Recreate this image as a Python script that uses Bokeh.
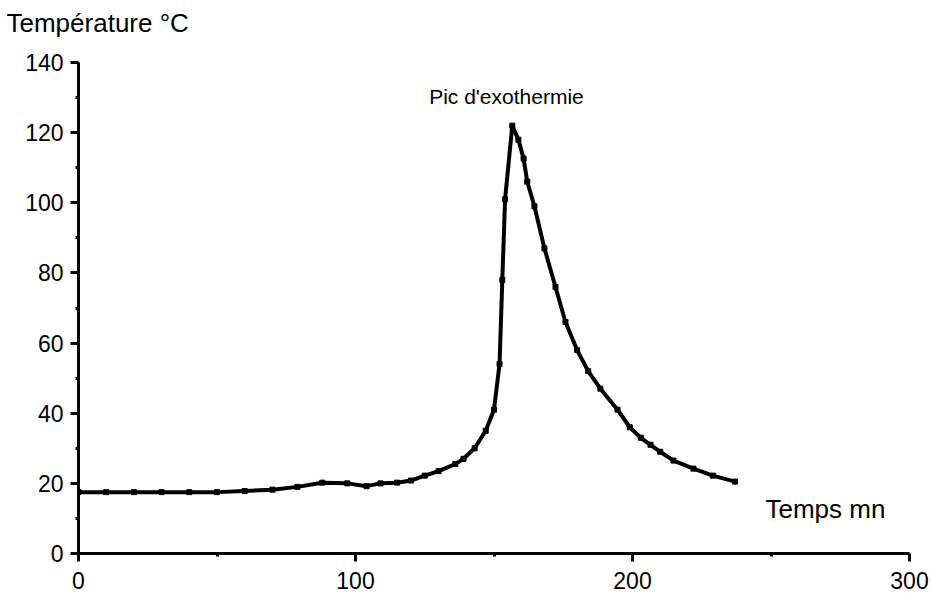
from bokeh.plotting import figure
from bokeh.models import Range1d, Label, FixedTicker, Title
from bokeh.embed import file_html
from bokeh.resources import INLINE

# Data
time_mn = [0, 10, 20, 30, 40, 50, 60, 70, 79, 88, 97, 104, 109, 115, 120, 125, 130,
           136, 139, 143, 147, 150, 152, 153, 154, 156.6, 158.8, 160.7, 162, 164.6,
           168.2, 172.2, 175.8, 180, 184, 188.4, 194.6, 199, 203, 206.5, 210, 214.8,
           222, 229, 237]
temp_c = [17.5, 17.5, 17.5, 17.5, 17.5, 17.5, 17.8, 18.2, 19, 20.2, 20, 19.2, 20, 20.2,
          20.8, 22.2, 23.5, 25.5, 27, 30, 35, 41, 54, 78, 101, 122, 118, 112.6, 106, 99,
          87, 76, 66, 58, 52, 47, 41, 36, 33, 31, 29, 26.5, 24.2, 22.2, 20.5]
x_ticks = [0, 100, 200, 300]
x_minor = [50, 150, 250]
y_ticks = [0, 20, 40, 60, 80, 100, 120, 140]
y_minor = [10, 30, 50, 70, 90, 110, 130]

FONT = "Liberation Sans"

p = figure(width=931, height=594, output_backend="svg", toolbar_location=None,
           x_range=Range1d(0, 300), y_range=Range1d(0, 140),
           min_border_left=78, min_border_right=22, min_border_top=62, min_border_bottom=41)
p.outline_line_color = None
p.xgrid.visible = False
p.ygrid.visible = False
p.background_fill_color = "white"

p.xaxis.ticker = FixedTicker(ticks=x_ticks, minor_ticks=x_minor)
p.yaxis.ticker = FixedTicker(ticks=y_ticks, minor_ticks=y_minor)
for ax in (p.xaxis, p.yaxis):
    ax.axis_line_width = 3
    ax.axis_line_color = "black"
    ax.major_tick_line_width = 3
    ax.major_tick_line_color = "black"
    ax.major_tick_out = 8
    ax.major_tick_in = 0
    ax.minor_tick_line_width = 3
    ax.minor_tick_line_color = "black"
    ax.minor_tick_out = 3
    ax.minor_tick_in = 0
    ax.major_label_text_font = FONT
    ax.major_label_text_font_size = "23px"
    ax.major_label_text_color = "black"
p.yaxis.major_label_standoff = 7
p.xaxis.major_label_standoff = 10

p.line(time_mn, temp_c, line_width=4, line_color="black", line_join="round")
p.scatter(time_mn, temp_c, marker="square", size=5, fill_color="black", line_color="black")

spacer = Title(text=" ", text_font_size="1px", standoff=20)
p.add_layout(spacer, "above")
title = Title(text="Température °C", align="left", offset=-72, text_font=FONT,
              text_font_size="26px", text_font_style="normal", text_color="black",
              standoff=4)
p.add_layout(title, "above")

p.add_layout(Label(x=248, y=12.8, text="Temps mn", text_font=FONT,
                   text_font_size="26px", text_baseline="middle", text_align="left",
                   text_color="black"))
p.add_layout(Label(x=154.5, y=130.3, text="Pic d'exothermie", text_font=FONT,
                   text_font_size="21px", text_baseline="middle", text_align="center",
                   text_color="black"))

open("out.html", "w").write(file_html(p, INLINE))
